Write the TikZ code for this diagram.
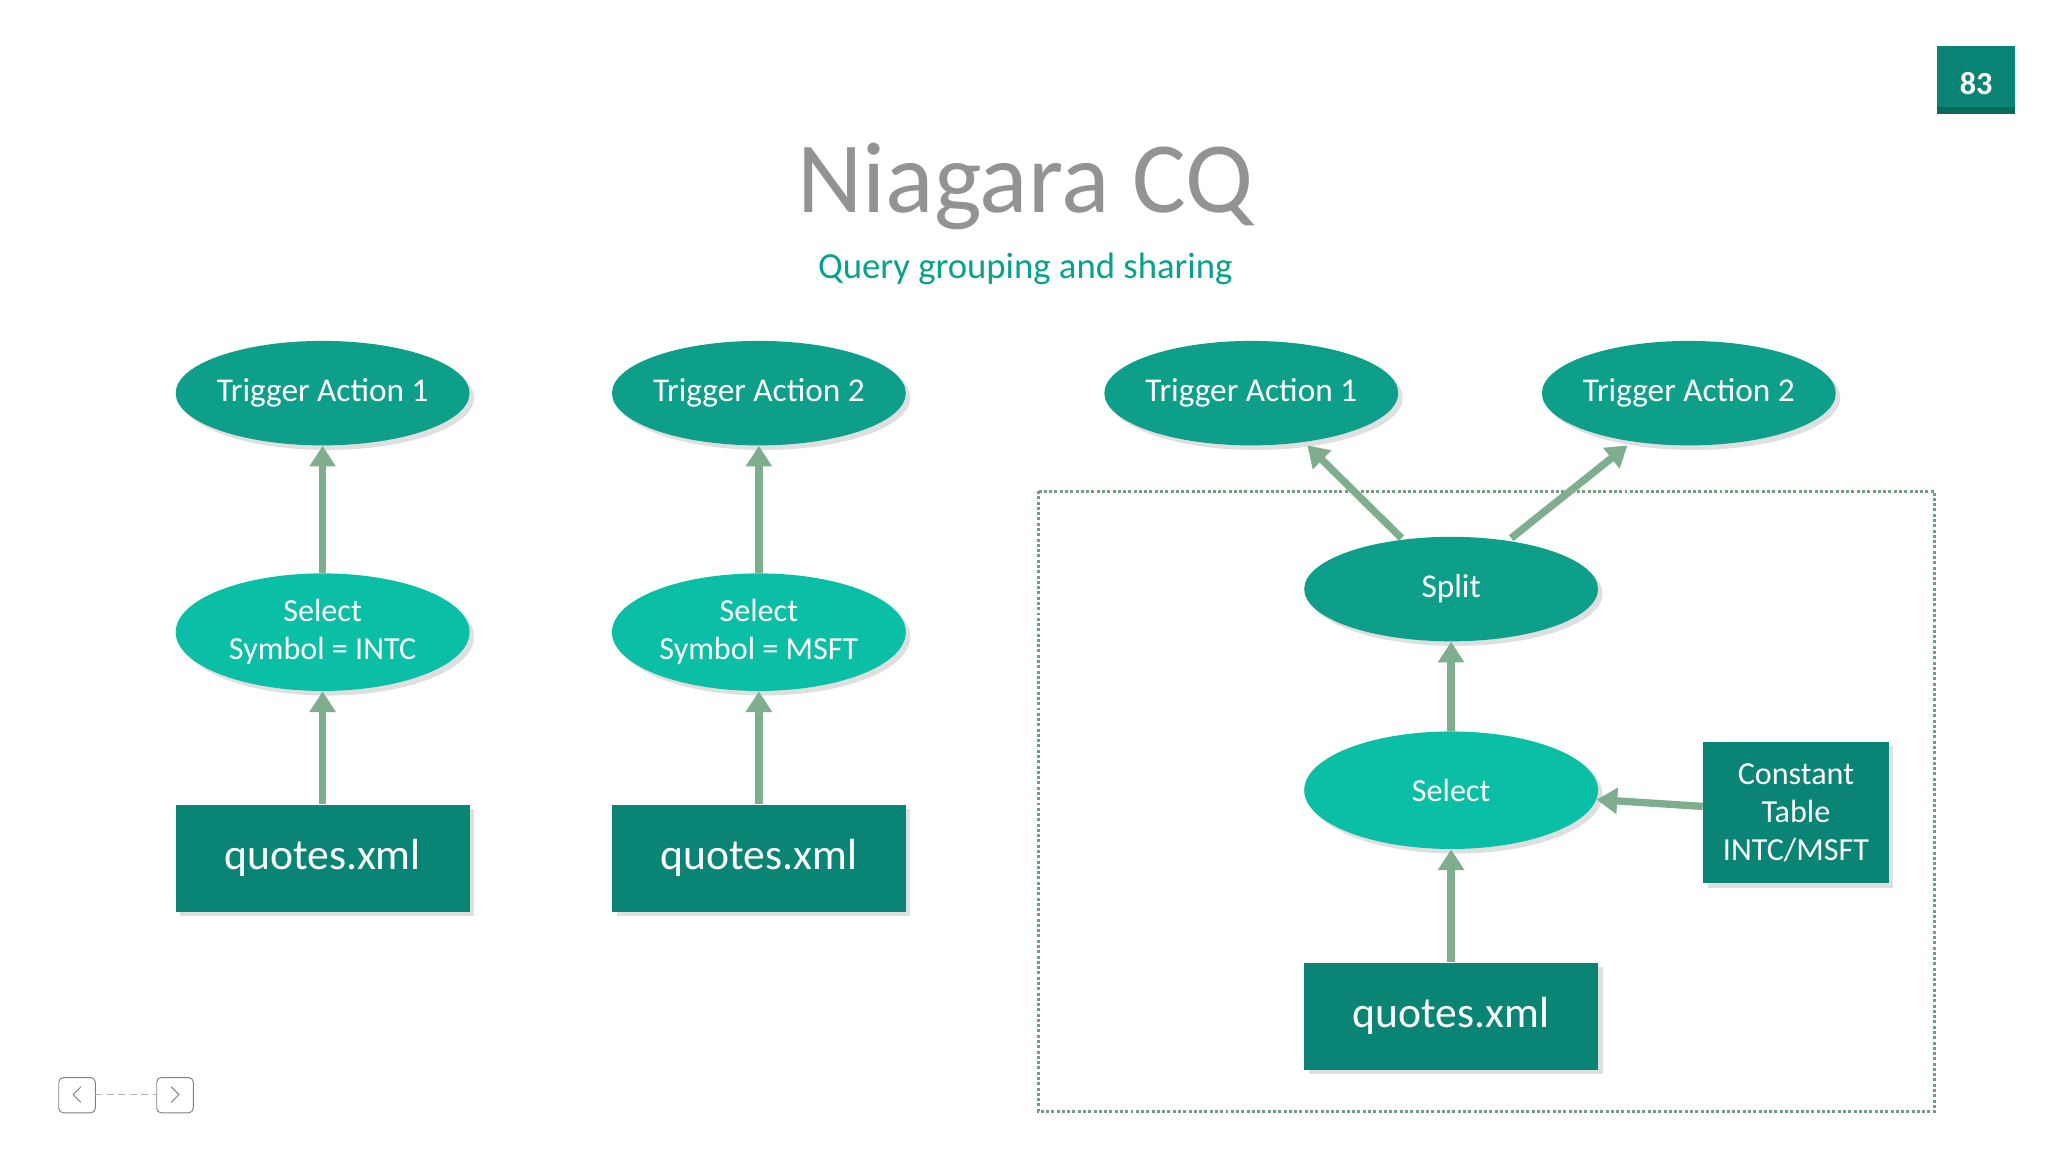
\documentclass[tikz,border=0pt]{standalone}
\usepackage{fontspec}
\setmainfont{Carlito}
\usetikzlibrary{shapes.geometric,arrows.meta,shadows}
\definecolor{teal1}{HTML}{0E9F8A}
\definecolor{teal2}{HTML}{0ABFA5}
\definecolor{teal3}{HTML}{0A8474}
\definecolor{arrowc}{HTML}{7FAE8E}
\tikzset{
  trig/.style = {ellipse, inner sep=-6pt, fill=teal1, text=white, minimum width=4.5cm, minimum height=1.6cm, font=\fontsize{14.5}{18}\selectfont, drop shadow={opacity=0.25, shadow xshift=2pt, shadow yshift=-2pt}},
  sel/.style = {ellipse, inner sep=-4pt, fill=teal2, text=white, minimum width=4.5cm, minimum height=1.8cm, align=center, font=\fontsize{14}{16.5}\selectfont, drop shadow={opacity=0.25, shadow xshift=2pt, shadow yshift=-2pt}},
  src/.style = {rectangle, inner sep=0pt, fill=teal3, text=white, minimum width=4.5cm, minimum height=1.64cm, font=\fontsize{19}{22}\selectfont, drop shadow={opacity=0.25, shadow xshift=2pt, shadow yshift=-2pt}},
  up/.style = {draw=arrowc, line width=3.2pt, -{Triangle[length=9pt,width=11pt]}},
}
\begin{document}
\begin{tikzpicture}[x=0.02cm, y=-0.02cm]
    \useasboundingbox[fill=white] (0,0) rectangle (1568,882);
    % page number badge
    \fill[teal3] (1483,35) rectangle (1543,87);
    \fill[teal3!80!black] (1483,82) rectangle (1543,87);
    \node[text=white, font=\bfseries\fontsize{14}{17}\selectfont] (page) at (1513,64) {83};
    % title
    \node[text=gray!85, font=\fontsize{44}{48}\selectfont] (title) at (785,143) {Niagara CQ};
    \node[text=teal2!85!black, font=\fontsize{16}{20}\selectfont] (subtitle) at (785,206) {Query grouping and sharing};
    % first query
    \node[trig] (ta1) at (247,301) {Trigger Action 1};
    \node[sel] (sel1) at (247,484) {Select\\Symbol = INTC};
    \node[src] (q1) at (247,657) {quotes.xml};
    \draw[up] (q1) -- (sel1);
    \draw[up] (sel1) -- (ta1);
    % second query
    \node[trig] (ta2) at (581,301) {Trigger Action 2};
    \node[sel] (sel2) at (581,484) {Select\\Symbol = MSFT};
    \node[src] (q2) at (581,657) {quotes.xml};
    \draw[up] (q2) -- (sel2);
    \draw[up] (sel2) -- (ta2);
    % grouped plan
    \draw[arrowc!90!black, densely dotted, line width=1.3pt] (795,376) rectangle (1481,851);
    \node[trig] (gta1) at (958,301) {Trigger Action 1};
    \node[trig] (gta2) at (1293,301) {Trigger Action 2};
    \node[trig] (split) at (1111,451) {Split};
    \node[sel] (gsel) at (1111,605) {Select};
    \node[src] (gq) at (1111,778) {quotes.xml};
    \node[src, minimum width=2.84cm, minimum height=2.16cm, align=center, font=\fontsize{14}{16.5}\selectfont] (const) at (1375,622) {Constant\\Table\\INTC/MSFT};
    \draw[up] (gq) -- (gsel);
    \draw[up] (gsel) -- (split);
    \draw[up] (const) -- (gsel);
    \draw[up] (1073,412) -- (1001,341);
    \draw[up] (1157,412) -- (1246,341);
    % navigation
    \draw[gray, rounded corners=2pt] (45,825) rectangle (73,852);
    \draw[gray] (62,832) -- (56,838) -- (62,844);
    \draw[gray, rounded corners=2pt] (120,825) rectangle (148,852);
    \draw[gray] (131,832) -- (137,838) -- (131,844);
    \draw[gray!60, densely dashed] (73,838) -- (120,838);
\end{tikzpicture}
\end{document}
